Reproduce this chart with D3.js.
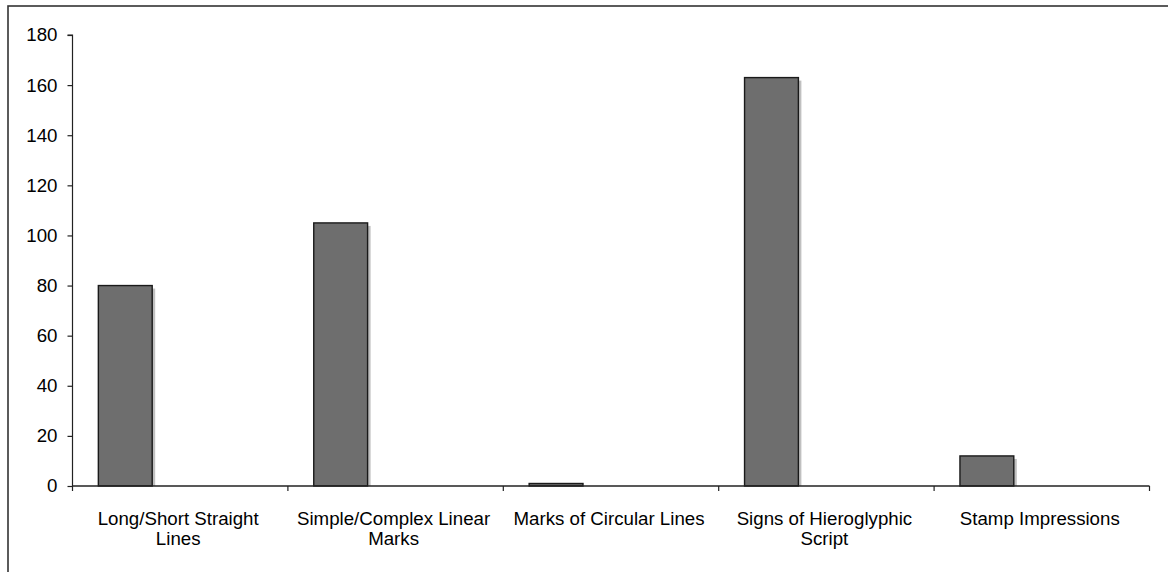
<!DOCTYPE html>
<html>
<head>
<meta charset="utf-8">
<script src="https://cdn.jsdelivr.net/npm/d3@7"></script>
<style>
html,body{margin:0;padding:0;background:#fff;overflow:hidden;}
svg{display:block;font-family:"Liberation Sans",Arial,sans-serif;}
</style>
</head>
<body>
<svg id="chart" width="1168" height="572"></svg>
<script>
const categories = [
  ["Long/Short Straight", "Lines"],
  ["Simple/Complex Linear", "Marks"],
  ["Marks of Circular Lines"],
  ["Signs of Hieroglyphic", "Script"],
  ["Stamp Impressions"]
];
const values = [80, 105, 1, 163, 12];
const yTicks = [0, 20, 40, 60, 80, 100, 120, 140, 160, 180];

(function () {
const svg = d3.select("#chart");
const mLeft = 72.5, mRight = 1149.5, mTop = 35, mBottom = 486;
const fs = 18.7;

// outer frame
svg.append("rect")
  .attr("x", 8).attr("y", 6).attr("width", 1180).attr("height", 600)
  .attr("fill", "none").attr("stroke", "#333").attr("stroke-width", 1.6);

const x = d3.scaleBand().domain(d3.range(categories.length)).range([mLeft, mRight]).padding(0);
const y = d3.scaleLinear().domain([0, 180]).range([mBottom, mTop]);

const bw = x.bandwidth() * 0.25;
const off = x.bandwidth() * 0.12;

// shadows
svg.append("g").selectAll("rect").data(values).join("rect")
  .attr("x", (d, i) => x(i) + off + 3)
  .attr("y", d => y(d) + 3)
  .attr("width", bw)
  .attr("height", d => Math.max(0, mBottom - y(d) - 3))
  .attr("fill", "#c0c0c0");

// bars
svg.append("g").selectAll("rect").data(values).join("rect")
  .attr("x", (d, i) => x(i) + off)
  .attr("y", d => y(d))
  .attr("width", bw)
  .attr("height", d => mBottom - y(d))
  .attr("fill", "#6e6e6e")
  .attr("stroke", "#1a1a1a")
  .attr("stroke-width", 1.4);

// y axis
const yAxis = d3.axisLeft(y).tickValues(yTicks).tickSize(5).tickPadding(10);
const gy = svg.append("g").attr("transform", `translate(${mLeft},0)`).call(yAxis);
gy.select(".domain").attr("stroke", "#222").attr("stroke-width", 1.2).attr("d", `M-5,${mTop}H0V${mBottom}`);
gy.selectAll(".tick line").attr("stroke", "#222").attr("stroke-width", 1.2);
gy.selectAll(".tick text").attr("font-size", fs).attr("fill", "#000").attr("font-family", "Liberation Sans, Arial, sans-serif");

// x axis
const gx = svg.append("g").attr("transform", `translate(0,${mBottom})`);
gx.append("line").attr("x1", mLeft).attr("x2", mRight).attr("y1", 0).attr("y2", 0)
  .attr("stroke", "#222").attr("stroke-width", 1.4);
const bounds = d3.range(categories.length + 1).map(i => i < categories.length ? x(i) : mRight);
gx.selectAll("line.tk").data(bounds).join("line").attr("class", "tk")
  .attr("x1", d => d).attr("x2", d => d).attr("y1", 0).attr("y2", 5)
  .attr("stroke", "#222").attr("stroke-width", 1.2);

// x labels
const lab = svg.append("g");
categories.forEach((lines, i) => {
  const cx = x(i) + x.bandwidth() / 2 - 2;
  const t = lab.append("text")
    .attr("x", cx)
    .attr("y", 525)
    .attr("text-anchor", "middle")
    .attr("font-size", fs)
    .attr("fill", "#000");
  lines.forEach((ln, j) => {
    t.append("tspan").attr("x", cx).attr("dy", j === 0 ? 0 : 20).text(ln);
  });
});
})();
</script>
</body>
</html>
